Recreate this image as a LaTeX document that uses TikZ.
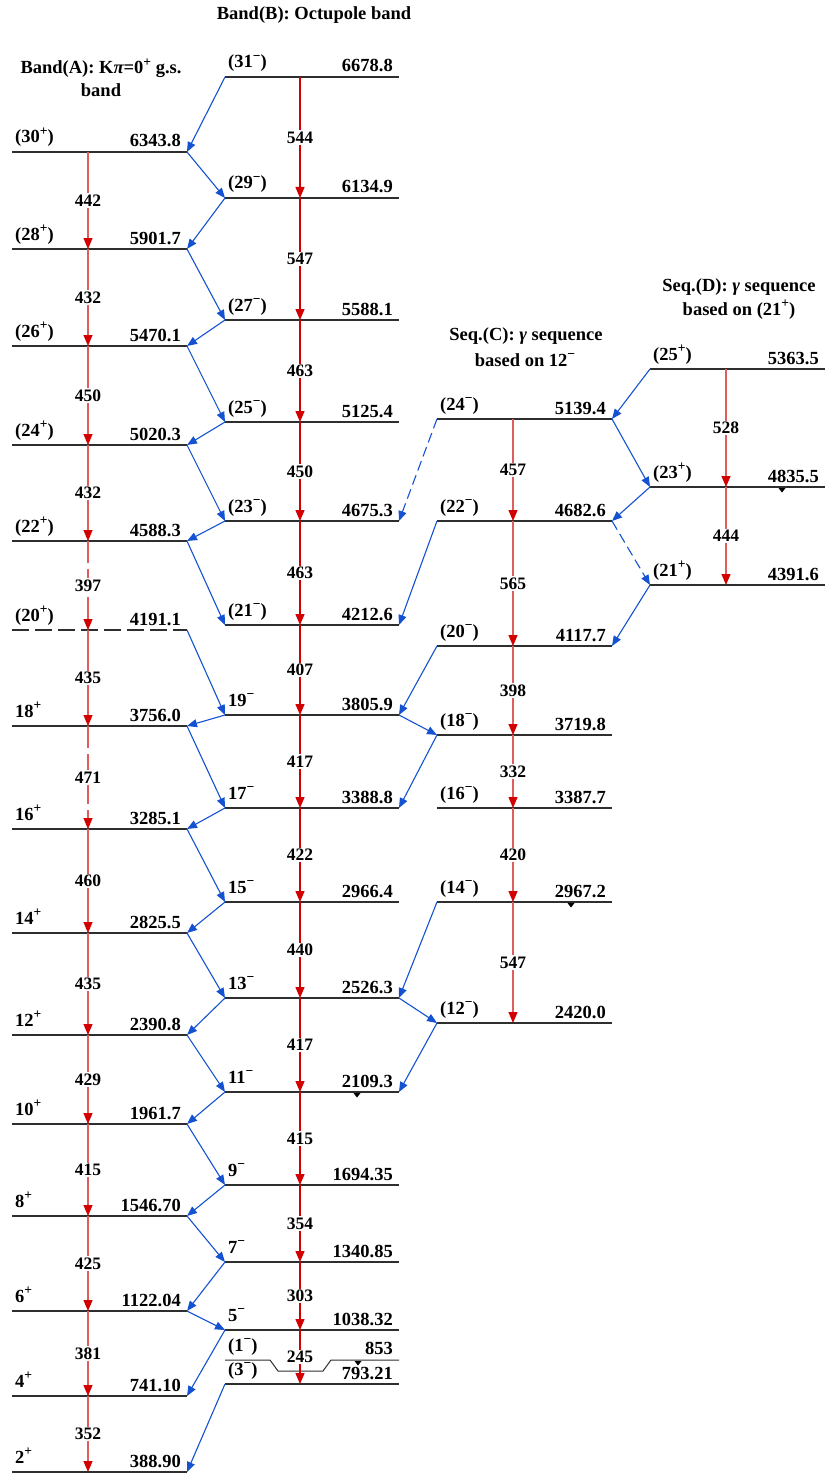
\documentclass[tikz,border=0pt]{standalone}
\usepackage{fontspec}
\setmainfont{Liberation Serif}
\usetikzlibrary{arrows.meta}

\definecolor{lvlgray}{HTML}{2E2E2E}
\definecolor{tblue}{HTML}{1452D2}
\definecolor{tred}{HTML}{D20000}
\definecolor{tpink}{HTML}{DE5E5E}

% parity superscripts, a little larger than \textsuperscript
\newcommand\psup{\raisebox{0.42em}{\fontsize{13.5}{14}\selectfont +}}
\newcommand\msup{\raisebox{0.42em}{\fontsize{13.5}{14}\selectfont −}}

\tikzset{
  levelline/.style={draw=lvlgray, line width=1.3pt},
  spinlab/.style={anchor=base west, inner sep=0pt, font=\bfseries\fontsize{18.5}{22}\selectfont},
  enlab/.style={anchor=base east, inner sep=0pt, font=\bfseries\fontsize{18.5}{22}\selectfont},
  titlelab/.style={anchor=base, inner sep=0pt, font=\bfseries\fontsize{18.5}{22}\selectfont},
  glab/.style={fill=white, inner sep=1.5pt, font=\bfseries\fontsize{17.5}{20}\selectfont},
  gband/.style={draw=tred, line width=1.3pt, -{Triangle[length=11pt,width=9pt,color=tred]}},
  gside/.style={draw=tpink, line width=1.2pt, -{Triangle[length=11pt,width=9pt,color=tred]}},
  link/.style={draw=tblue, line width=1.1pt, -{Triangle[length=10pt,width=8pt]}},
  marker/.style={fill=black},
}

% level: name, x left, x right, x of gamma line, y, spin, energy, extra line style
\newcommand\drawlevel[8]{%
  \coordinate (#1L) at (#2,#5);
  \coordinate (#1R) at (#3,#5);
  \coordinate (#1g) at (#4,#5);
  \draw[levelline,#8] (#1L) -- (#1R);
  \node[spinlab] (#1s) at ([xshift=3pt,yshift=9pt]#1L) {#6};
  \node[enlab] (#1e) at ([xshift=-6pt,yshift=5pt]#1R) {#7};
}
% in-band transition: from, to, energy label, style
\newcommand\gtrans[4]{%
  \draw[#4] (#1g) -- node[glab] (#1-#2) {#3} (#2g);
}
% small downward marker below a level
\newcommand\tickmark[1]{%
  \fill[marker] (#1) ++(-3.5,1) -- ++(7,0) -- ++(-3.5,4.5) -- cycle;
}

\begin{document}
\begin{tikzpicture}[x=1pt,y=-1pt]
\useasboundingbox (0,0) rectangle (826,1474);

% titles
\node[titlelab] (tB)  at (314,20)  {Band(B): Octupole band};
\node[titlelab] (tA1) at (101,74)  {Band(A): K{\itshape π}=0\psup{} g.s.};
\node[titlelab] (tA2) at (101,97)  {band};
\node[titlelab] (tC1) at (526,340) {Seq.(C): {\itshape γ} sequence};
\node[titlelab] (tC2) at (525,366) {based on 12\msup};
\node[titlelab] (tD1) at (739,291) {Seq.(D): {\itshape γ} sequence};
\node[titlelab] (tD2) at (739,315) {based on (21\psup)};

% band A: g.s. band
\drawlevel{A30}{12}{187}{88}{152}{(30\psup)}{6343.8}{}
\drawlevel{A28}{12}{187}{88}{249}{(28\psup)}{5901.7}{}
\drawlevel{A26}{12}{187}{88}{346}{(26\psup)}{5470.1}{}
\drawlevel{A24}{12}{187}{88}{445}{(24\psup)}{5020.3}{}
\drawlevel{A22}{12}{187}{88}{541}{(22\psup)}{4588.3}{}
\drawlevel{A20}{12}{187}{88}{630}{(20\psup)}{4191.1}{dash pattern=on 17pt off 6pt}
\drawlevel{A18}{12}{187}{88}{726}{18\psup}{3756.0}{}
\drawlevel{A16}{12}{187}{88}{829}{16\psup}{3285.1}{}
\drawlevel{A14}{12}{187}{88}{933}{14\psup}{2825.5}{}
\drawlevel{A12}{12}{187}{88}{1035}{12\psup}{2390.8}{}
\drawlevel{A10}{12}{187}{88}{1124}{10\psup}{1961.7}{}
\drawlevel{A8}{12}{187}{88}{1216}{8\psup}{1546.70}{}
\drawlevel{A6}{12}{187}{88}{1311}{6\psup}{1122.04}{}
\drawlevel{A4}{12}{187}{88}{1396}{4\psup}{741.10}{}
\drawlevel{A2}{12}{187}{88}{1472}{2\psup}{388.90}{}

% band B: octupole band
\drawlevel{B31}{225}{399}{300}{77}{(31\msup)}{6678.8}{}
\drawlevel{B29}{225}{399}{300}{198}{(29\msup)}{6134.9}{}
\drawlevel{B27}{225}{399}{300}{320}{(27\msup)}{5588.1}{}
\drawlevel{B25}{225}{399}{300}{422}{(25\msup)}{5125.4}{}
\drawlevel{B23}{225}{399}{300}{521}{(23\msup)}{4675.3}{}
\drawlevel{B21}{225}{399}{300}{625}{(21\msup)}{4212.6}{}
\drawlevel{B19}{225}{399}{300}{715}{19\msup}{3805.9}{}
\drawlevel{B17}{225}{399}{300}{808}{17\msup}{3388.8}{}
\drawlevel{B15}{225}{399}{300}{902}{15\msup}{2966.4}{}
\drawlevel{B13}{225}{399}{300}{998}{13\msup}{2526.3}{}
\drawlevel{B11}{225}{399}{300}{1092}{11\msup}{2109.3}{}
\drawlevel{B9}{225}{399}{300}{1185}{9\msup}{1694.35}{}
\drawlevel{B7}{225}{399}{300}{1262}{7\msup}{1340.85}{}
\drawlevel{B5}{225}{399}{300}{1330}{5\msup}{1038.32}{}
\drawlevel{B3}{225}{399}{300}{1384}{(3\msup)}{793.21}{}

% (1-) level at 853, bent around the 245 label
\coordinate (K1) at (225,1360);
\coordinate (K2) at (270,1360);
\coordinate (K3) at (278,1371);
\coordinate (K4) at (323,1371);
\coordinate (K5) at (331,1360);
\coordinate (K6) at (399,1360);
\draw[draw=lvlgray, line width=1pt] (K1) -- (K2) -- (K3) -- (K4) -- (K5) -- (K6);
\node[spinlab] (K1s) at ([xshift=3pt,yshift=9pt]K1) {(1\msup)};
\node[enlab]   (K6e) at ([xshift=-6pt,yshift=6pt]K6) {853};

% sequence C
\drawlevel{C24}{437}{612}{513}{419}{(24\msup)}{5139.4}{}
\drawlevel{C22}{437}{612}{513}{521}{(22\msup)}{4682.6}{}
\drawlevel{C20}{437}{612}{513}{646}{(20\msup)}{4117.7}{}
\drawlevel{C18}{437}{612}{513}{735}{(18\msup)}{3719.8}{}
\drawlevel{C16}{437}{612}{513}{808}{(16\msup)}{3387.7}{}
\drawlevel{C14}{437}{612}{513}{902}{(14\msup)}{2967.2}{}
\drawlevel{C12}{437}{612}{513}{1023}{(12\msup)}{2420.0}{}

% sequence D
\drawlevel{D25}{650}{825}{726}{369}{(25\psup)}{5363.5}{}
\drawlevel{D23}{650}{825}{726}{487}{(23\psup)}{4835.5}{}
\drawlevel{D21}{650}{825}{726}{585}{(21\psup)}{4391.6}{}

% markers
\coordinate (mk1) at (357,1092);
\coordinate (mk2) at (571,902);
\coordinate (mk3) at (782,487);
\coordinate (mk4) at (358,1360);
\tickmark{mk1}
\tickmark{mk2}
\tickmark{mk3}
\tickmark{mk4}

% in-band E2 transitions
\gtrans{A30}{A28}{442}{gside}
\gtrans{A28}{A26}{432}{gside}
\gtrans{A26}{A24}{450}{gside}
\gtrans{A24}{A22}{432}{gside}
\gtrans{A22}{A20}{397}{gside,dash pattern=on 22pt off 6pt}
\gtrans{A20}{A18}{435}{gside}
\gtrans{A18}{A16}{471}{gside,dash pattern=on 22pt off 6pt}
\gtrans{A16}{A14}{460}{gside}
\gtrans{A14}{A12}{435}{gside}
\gtrans{A12}{A10}{429}{gside}
\gtrans{A10}{A8}{415}{gside}
\gtrans{A8}{A6}{425}{gside}
\gtrans{A6}{A4}{381}{gside}
\gtrans{A4}{A2}{352}{gside}

\gtrans{B31}{B29}{544}{gband}
\gtrans{B29}{B27}{547}{gband}
\gtrans{B27}{B25}{463}{gband}
\gtrans{B25}{B23}{450}{gband}
\gtrans{B23}{B21}{463}{gband}
\gtrans{B21}{B19}{407}{gband}
\gtrans{B19}{B17}{417}{gband}
\gtrans{B17}{B15}{422}{gband}
\gtrans{B15}{B13}{440}{gband}
\gtrans{B13}{B11}{417}{gband}
\gtrans{B11}{B9}{415}{gband}
\gtrans{B9}{B7}{354}{gband}
\gtrans{B7}{B5}{303}{gband}
\gtrans{B5}{B3}{245}{gband}

\gtrans{C24}{C22}{457}{gside}
\gtrans{C22}{C20}{565}{gside}
\gtrans{C20}{C18}{398}{gside}
\gtrans{C18}{C16}{332}{gside}
\gtrans{C16}{C14}{420}{gside}
\gtrans{C14}{C12}{547}{gside}

\gtrans{D25}{D23}{528}{gside}
\gtrans{D23}{D21}{444}{gside}

% inter-band transitions A <-> B
\draw[link] (B31L) -- (A30R);
\draw[link] (A30R) -- (B29L);
\draw[link] (B29L) -- (A28R);
\draw[link] (A28R) -- (B27L);
\draw[link] (B27L) -- (A26R);
\draw[link] (A26R) -- (B25L);
\draw[link] (B25L) -- (A24R);
\draw[link] (A24R) -- (B23L);
\draw[link] (B23L) -- (A22R);
\draw[link] (A22R) -- (B21L);
\draw[link] (A20R) -- (B19L);
\draw[link] (B19L) -- (A18R);
\draw[link] (A18R) -- (B17L);
\draw[link] (B17L) -- (A16R);
\draw[link] (A16R) -- (B15L);
\draw[link] (B15L) -- (A14R);
\draw[link] (A14R) -- (B13L);
\draw[link] (B13L) -- (A12R);
\draw[link] (A12R) -- (B11L);
\draw[link] (B11L) -- (A10R);
\draw[link] (A10R) -- (B9L);
\draw[link] (B9L) -- (A8R);
\draw[link] (A8R) -- (B7L);
\draw[link] (B7L) -- (A6R);
\draw[link] (A6R) -- (B5L);
\draw[link] (B5L) -- (A4R);
\draw[link] (B3L) -- (A2R);

% B <-> C
\draw[link,dash pattern=on 10pt off 5pt] (C24L) -- (B23R);
\draw[link] (C22L) -- (B21R);
\draw[link] (C20L) -- (B19R);
\draw[link] (B19R) -- (C18L);
\draw[link] (C18L) -- (B17R);
\draw[link] (C14L) -- (B13R);
\draw[link] (B13R) -- (C12L);
\draw[link] (C12L) -- (B11R);

% C <-> D
\draw[link] (D25L) -- (C24R);
\draw[link] (C24R) -- (D23L);
\draw[link] (D23L) -- (C22R);
\draw[link,dash pattern=on 10pt off 5pt] (C22R) -- (D21L);
\draw[link] (D21L) -- (C20R);
\end{tikzpicture}
\end{document}
